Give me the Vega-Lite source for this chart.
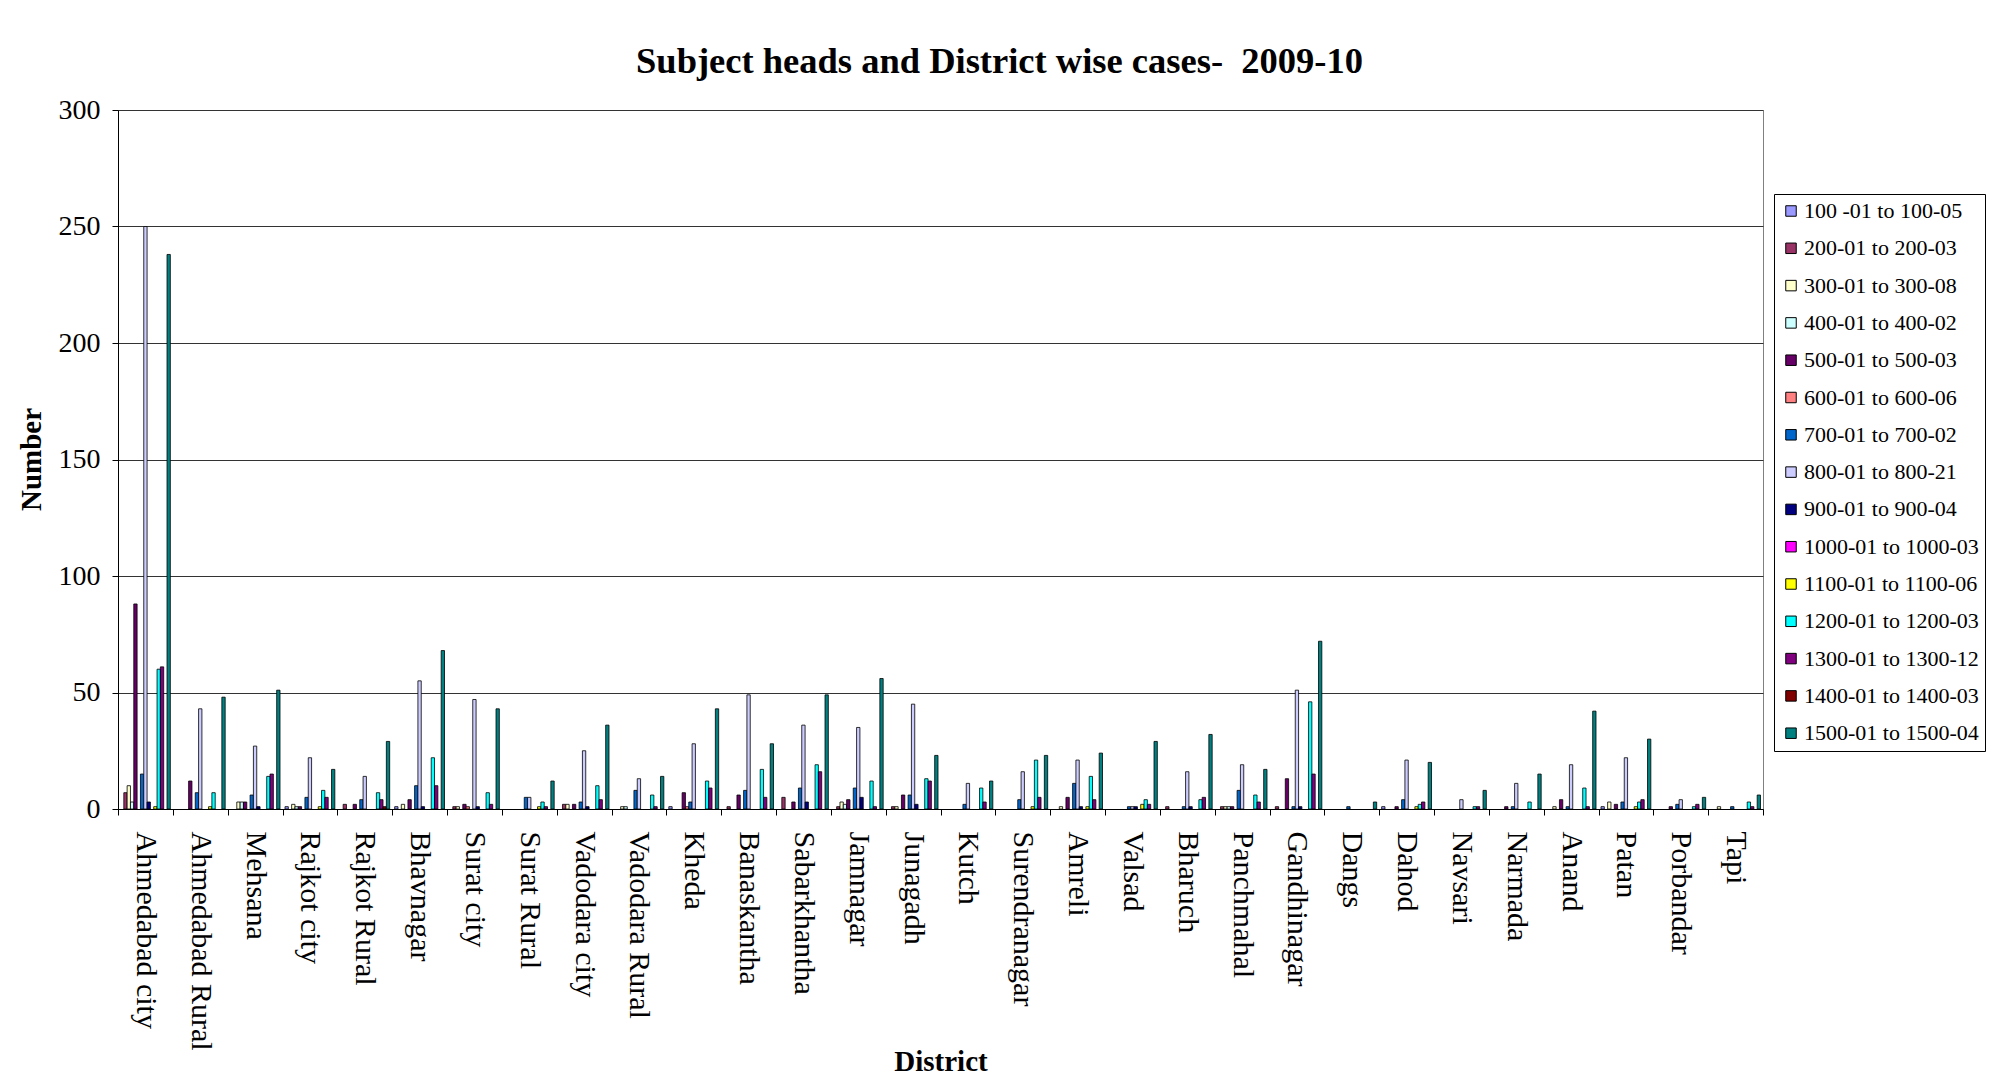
{
  "$schema": "https://vega.github.io/schema/vega-lite/v6.json",
  "autosize": {"type": "none"},
  "padding": {"left": 118, "top": 110, "right": 234, "bottom": 277},
  "width": 1645,
  "height": 699,
  "background": "white",
  "title": {
    "text": "Subject heads and District wise cases- \u00a02009-10",
    "font": "Liberation Serif",
    "fontSize": 36.5,
    "fontWeight": "bold",
    "color": "black",
    "anchor": "middle",
    "dx": 59,
    "offset": -13,
    "baseline": "alphabetic"
  },
  "config": {
    "view": {"stroke": "#808080", "strokeWidth": 1},
    "axis": {"labelColor": "black", "titleColor": "black", "domainColor": "black", "tickColor": "black"}
  },
  "data": {
    "values": [
      {"d": "Ahmedabad city", "s": "200-01 to 200-03", "v": 7},
      {"d": "Ahmedabad city", "s": " 300-01 to 300-08", "v": 10},
      {"d": "Ahmedabad city", "s": "400-01 to 400-02", "v": 3},
      {"d": "Ahmedabad city", "s": "500-01 to 500-03", "v": 88},
      {"d": "Ahmedabad city", "s": "700-01 to 700-02", "v": 15},
      {"d": "Ahmedabad city", "s": "800-01 to 800-21", "v": 250},
      {"d": "Ahmedabad city", "s": "900-01 to 900-04", "v": 3},
      {"d": "Ahmedabad city", "s": "1100-01 to 1100-06", "v": 1},
      {"d": "Ahmedabad city", "s": "1200-01 to 1200-03", "v": 60},
      {"d": "Ahmedabad city", "s": "1300-01 to 1300-12", "v": 61},
      {"d": "Ahmedabad city", "s": "1500-01 to 1500-04", "v": 238},
      {"d": "Ahmedabad Rural", "s": "500-01 to 500-03", "v": 12},
      {"d": "Ahmedabad Rural", "s": "700-01 to 700-02", "v": 7},
      {"d": "Ahmedabad Rural", "s": "800-01 to 800-21", "v": 43},
      {"d": "Ahmedabad Rural", "s": "1100-01 to 1100-06", "v": 1},
      {"d": "Ahmedabad Rural", "s": "1200-01 to 1200-03", "v": 7},
      {"d": "Ahmedabad Rural", "s": "1500-01 to 1500-04", "v": 48},
      {"d": "Mehsana", "s": " 300-01 to 300-08", "v": 3},
      {"d": "Mehsana", "s": "400-01 to 400-02", "v": 3},
      {"d": "Mehsana", "s": "500-01 to 500-03", "v": 3},
      {"d": "Mehsana", "s": "700-01 to 700-02", "v": 6},
      {"d": "Mehsana", "s": "800-01 to 800-21", "v": 27},
      {"d": "Mehsana", "s": "900-01 to 900-04", "v": 1},
      {"d": "Mehsana", "s": "1200-01 to 1200-03", "v": 14},
      {"d": "Mehsana", "s": "1300-01 to 1300-12", "v": 15},
      {"d": "Mehsana", "s": "1500-01 to 1500-04", "v": 51},
      {"d": "Rajkot city", "s": "100 -01 to 100-05", "v": 1},
      {"d": "Rajkot city", "s": " 300-01 to 300-08", "v": 2},
      {"d": "Rajkot city", "s": "400-01 to 400-02", "v": 1},
      {"d": "Rajkot city", "s": "500-01 to 500-03", "v": 1},
      {"d": "Rajkot city", "s": "700-01 to 700-02", "v": 5},
      {"d": "Rajkot city", "s": "800-01 to 800-21", "v": 22},
      {"d": "Rajkot city", "s": "1100-01 to 1100-06", "v": 1},
      {"d": "Rajkot city", "s": "1200-01 to 1200-03", "v": 8},
      {"d": "Rajkot city", "s": "1300-01 to 1300-12", "v": 5},
      {"d": "Rajkot city", "s": "1500-01 to 1500-04", "v": 17},
      {"d": "Rajkot Rural", "s": "200-01 to 200-03", "v": 2},
      {"d": "Rajkot Rural", "s": "500-01 to 500-03", "v": 2},
      {"d": "Rajkot Rural", "s": "700-01 to 700-02", "v": 4},
      {"d": "Rajkot Rural", "s": "800-01 to 800-21", "v": 14},
      {"d": "Rajkot Rural", "s": "1200-01 to 1200-03", "v": 7},
      {"d": "Rajkot Rural", "s": "1300-01 to 1300-12", "v": 4},
      {"d": "Rajkot Rural", "s": "1400-01 to 1400-03", "v": 1},
      {"d": "Rajkot Rural", "s": "1500-01 to 1500-04", "v": 29},
      {"d": "Bhavnagar", "s": "100 -01 to 100-05", "v": 1},
      {"d": "Bhavnagar", "s": " 300-01 to 300-08", "v": 2},
      {"d": "Bhavnagar", "s": "500-01 to 500-03", "v": 4},
      {"d": "Bhavnagar", "s": "700-01 to 700-02", "v": 10},
      {"d": "Bhavnagar", "s": "800-01 to 800-21", "v": 55},
      {"d": "Bhavnagar", "s": "900-01 to 900-04", "v": 1},
      {"d": "Bhavnagar", "s": "1200-01 to 1200-03", "v": 22},
      {"d": "Bhavnagar", "s": "1300-01 to 1300-12", "v": 10},
      {"d": "Bhavnagar", "s": "1500-01 to 1500-04", "v": 68},
      {"d": "Surat city", "s": "200-01 to 200-03", "v": 1},
      {"d": "Surat city", "s": " 300-01 to 300-08", "v": 1},
      {"d": "Surat city", "s": "500-01 to 500-03", "v": 2},
      {"d": "Surat city", "s": "600-01 to 600-06", "v": 1},
      {"d": "Surat city", "s": "800-01 to 800-21", "v": 47},
      {"d": "Surat city", "s": "900-01 to 900-04", "v": 1},
      {"d": "Surat city", "s": "1200-01 to 1200-03", "v": 7},
      {"d": "Surat city", "s": "1300-01 to 1300-12", "v": 2},
      {"d": "Surat city", "s": "1500-01 to 1500-04", "v": 43},
      {"d": "Surat Rural", "s": "700-01 to 700-02", "v": 5},
      {"d": "Surat Rural", "s": "800-01 to 800-21", "v": 5},
      {"d": "Surat Rural", "s": "1100-01 to 1100-06", "v": 1},
      {"d": "Surat Rural", "s": "1200-01 to 1200-03", "v": 3},
      {"d": "Surat Rural", "s": "1300-01 to 1300-12", "v": 1},
      {"d": "Surat Rural", "s": "1500-01 to 1500-04", "v": 12},
      {"d": "Vadodara city", "s": "200-01 to 200-03", "v": 2},
      {"d": "Vadodara city", "s": " 300-01 to 300-08", "v": 2},
      {"d": "Vadodara city", "s": "500-01 to 500-03", "v": 2},
      {"d": "Vadodara city", "s": "700-01 to 700-02", "v": 3},
      {"d": "Vadodara city", "s": "800-01 to 800-21", "v": 25},
      {"d": "Vadodara city", "s": "900-01 to 900-04", "v": 1},
      {"d": "Vadodara city", "s": "1200-01 to 1200-03", "v": 10},
      {"d": "Vadodara city", "s": "1300-01 to 1300-12", "v": 4},
      {"d": "Vadodara city", "s": "1500-01 to 1500-04", "v": 36},
      {"d": "Vadodara Rural", "s": " 300-01 to 300-08", "v": 1},
      {"d": "Vadodara Rural", "s": "400-01 to 400-02", "v": 1},
      {"d": "Vadodara Rural", "s": "700-01 to 700-02", "v": 8},
      {"d": "Vadodara Rural", "s": "800-01 to 800-21", "v": 13},
      {"d": "Vadodara Rural", "s": "1200-01 to 1200-03", "v": 6},
      {"d": "Vadodara Rural", "s": "1300-01 to 1300-12", "v": 1},
      {"d": "Vadodara Rural", "s": "1500-01 to 1500-04", "v": 14},
      {"d": "Kheda", "s": "100 -01 to 100-05", "v": 1},
      {"d": "Kheda", "s": "500-01 to 500-03", "v": 7},
      {"d": "Kheda", "s": "600-01 to 600-06", "v": 1},
      {"d": "Kheda", "s": "700-01 to 700-02", "v": 3},
      {"d": "Kheda", "s": "800-01 to 800-21", "v": 28},
      {"d": "Kheda", "s": "1200-01 to 1200-03", "v": 12},
      {"d": "Kheda", "s": "1300-01 to 1300-12", "v": 9},
      {"d": "Kheda", "s": "1500-01 to 1500-04", "v": 43},
      {"d": "Banaskantha", "s": "200-01 to 200-03", "v": 1},
      {"d": "Banaskantha", "s": "500-01 to 500-03", "v": 6},
      {"d": "Banaskantha", "s": "700-01 to 700-02", "v": 8},
      {"d": "Banaskantha", "s": "800-01 to 800-21", "v": 49},
      {"d": "Banaskantha", "s": "1200-01 to 1200-03", "v": 17},
      {"d": "Banaskantha", "s": "1300-01 to 1300-12", "v": 5},
      {"d": "Banaskantha", "s": "1500-01 to 1500-04", "v": 28},
      {"d": "Sabarkhantha", "s": "200-01 to 200-03", "v": 5},
      {"d": "Sabarkhantha", "s": "500-01 to 500-03", "v": 3},
      {"d": "Sabarkhantha", "s": "700-01 to 700-02", "v": 9},
      {"d": "Sabarkhantha", "s": "800-01 to 800-21", "v": 36},
      {"d": "Sabarkhantha", "s": "900-01 to 900-04", "v": 3},
      {"d": "Sabarkhantha", "s": "1200-01 to 1200-03", "v": 19},
      {"d": "Sabarkhantha", "s": "1300-01 to 1300-12", "v": 16},
      {"d": "Sabarkhantha", "s": "1500-01 to 1500-04", "v": 49},
      {"d": "Jamnagar", "s": "200-01 to 200-03", "v": 1},
      {"d": "Jamnagar", "s": " 300-01 to 300-08", "v": 3},
      {"d": "Jamnagar", "s": "400-01 to 400-02", "v": 2},
      {"d": "Jamnagar", "s": "500-01 to 500-03", "v": 4},
      {"d": "Jamnagar", "s": "700-01 to 700-02", "v": 9},
      {"d": "Jamnagar", "s": "800-01 to 800-21", "v": 35},
      {"d": "Jamnagar", "s": "900-01 to 900-04", "v": 5},
      {"d": "Jamnagar", "s": "1200-01 to 1200-03", "v": 12},
      {"d": "Jamnagar", "s": "1300-01 to 1300-12", "v": 1},
      {"d": "Jamnagar", "s": "1500-01 to 1500-04", "v": 56},
      {"d": "Junagadh", "s": "200-01 to 200-03", "v": 1},
      {"d": "Junagadh", "s": " 300-01 to 300-08", "v": 1},
      {"d": "Junagadh", "s": "500-01 to 500-03", "v": 6},
      {"d": "Junagadh", "s": "700-01 to 700-02", "v": 6},
      {"d": "Junagadh", "s": "800-01 to 800-21", "v": 45},
      {"d": "Junagadh", "s": "900-01 to 900-04", "v": 2},
      {"d": "Junagadh", "s": "1200-01 to 1200-03", "v": 13},
      {"d": "Junagadh", "s": "1300-01 to 1300-12", "v": 12},
      {"d": "Junagadh", "s": "1500-01 to 1500-04", "v": 23},
      {"d": "Kutch", "s": "700-01 to 700-02", "v": 2},
      {"d": "Kutch", "s": "800-01 to 800-21", "v": 11},
      {"d": "Kutch", "s": "1200-01 to 1200-03", "v": 9},
      {"d": "Kutch", "s": "1300-01 to 1300-12", "v": 3},
      {"d": "Kutch", "s": "1500-01 to 1500-04", "v": 12},
      {"d": "Surendranagar", "s": "700-01 to 700-02", "v": 4},
      {"d": "Surendranagar", "s": "800-01 to 800-21", "v": 16},
      {"d": "Surendranagar", "s": "1100-01 to 1100-06", "v": 1},
      {"d": "Surendranagar", "s": "1200-01 to 1200-03", "v": 21},
      {"d": "Surendranagar", "s": "1300-01 to 1300-12", "v": 5},
      {"d": "Surendranagar", "s": "1500-01 to 1500-04", "v": 23},
      {"d": "Amreli", "s": " 300-01 to 300-08", "v": 1},
      {"d": "Amreli", "s": "500-01 to 500-03", "v": 5},
      {"d": "Amreli", "s": "700-01 to 700-02", "v": 11},
      {"d": "Amreli", "s": "800-01 to 800-21", "v": 21},
      {"d": "Amreli", "s": "900-01 to 900-04", "v": 1},
      {"d": "Amreli", "s": "1100-01 to 1100-06", "v": 1},
      {"d": "Amreli", "s": "1200-01 to 1200-03", "v": 14},
      {"d": "Amreli", "s": "1300-01 to 1300-12", "v": 4},
      {"d": "Amreli", "s": "1500-01 to 1500-04", "v": 24},
      {"d": "Valsad", "s": "700-01 to 700-02", "v": 1},
      {"d": "Valsad", "s": "800-01 to 800-21", "v": 1},
      {"d": "Valsad", "s": "900-01 to 900-04", "v": 1},
      {"d": "Valsad", "s": "1100-01 to 1100-06", "v": 2},
      {"d": "Valsad", "s": "1200-01 to 1200-03", "v": 4},
      {"d": "Valsad", "s": "1300-01 to 1300-12", "v": 2},
      {"d": "Valsad", "s": "1500-01 to 1500-04", "v": 29},
      {"d": "Bharuch", "s": "200-01 to 200-03", "v": 1},
      {"d": "Bharuch", "s": "700-01 to 700-02", "v": 1},
      {"d": "Bharuch", "s": "800-01 to 800-21", "v": 16},
      {"d": "Bharuch", "s": "900-01 to 900-04", "v": 1},
      {"d": "Bharuch", "s": "1200-01 to 1200-03", "v": 4},
      {"d": "Bharuch", "s": "1300-01 to 1300-12", "v": 5},
      {"d": "Bharuch", "s": "1500-01 to 1500-04", "v": 32},
      {"d": "Panchmahal", "s": "200-01 to 200-03", "v": 1},
      {"d": "Panchmahal", "s": " 300-01 to 300-08", "v": 1},
      {"d": "Panchmahal", "s": "400-01 to 400-02", "v": 1},
      {"d": "Panchmahal", "s": "500-01 to 500-03", "v": 1},
      {"d": "Panchmahal", "s": "700-01 to 700-02", "v": 8},
      {"d": "Panchmahal", "s": "800-01 to 800-21", "v": 19},
      {"d": "Panchmahal", "s": "1200-01 to 1200-03", "v": 6},
      {"d": "Panchmahal", "s": "1300-01 to 1300-12", "v": 3},
      {"d": "Panchmahal", "s": "1500-01 to 1500-04", "v": 17},
      {"d": "Gandhinagar", "s": "200-01 to 200-03", "v": 1},
      {"d": "Gandhinagar", "s": "500-01 to 500-03", "v": 13},
      {"d": "Gandhinagar", "s": "700-01 to 700-02", "v": 1},
      {"d": "Gandhinagar", "s": "800-01 to 800-21", "v": 51},
      {"d": "Gandhinagar", "s": "900-01 to 900-04", "v": 1},
      {"d": "Gandhinagar", "s": "1200-01 to 1200-03", "v": 46},
      {"d": "Gandhinagar", "s": "1300-01 to 1300-12", "v": 15},
      {"d": "Gandhinagar", "s": "1500-01 to 1500-04", "v": 72},
      {"d": "Dangs", "s": "700-01 to 700-02", "v": 1},
      {"d": "Dangs", "s": "1500-01 to 1500-04", "v": 3},
      {"d": "Dahod", "s": "100 -01 to 100-05", "v": 1},
      {"d": "Dahod", "s": "500-01 to 500-03", "v": 1},
      {"d": "Dahod", "s": "700-01 to 700-02", "v": 4},
      {"d": "Dahod", "s": "800-01 to 800-21", "v": 21},
      {"d": "Dahod", "s": "1100-01 to 1100-06", "v": 1},
      {"d": "Dahod", "s": "1200-01 to 1200-03", "v": 2},
      {"d": "Dahod", "s": "1300-01 to 1300-12", "v": 3},
      {"d": "Dahod", "s": "1500-01 to 1500-04", "v": 20},
      {"d": "Navsari", "s": "800-01 to 800-21", "v": 4},
      {"d": "Navsari", "s": "1200-01 to 1200-03", "v": 1},
      {"d": "Navsari", "s": "1300-01 to 1300-12", "v": 1},
      {"d": "Navsari", "s": "1500-01 to 1500-04", "v": 8},
      {"d": "Narmada", "s": "500-01 to 500-03", "v": 1},
      {"d": "Narmada", "s": "700-01 to 700-02", "v": 1},
      {"d": "Narmada", "s": "800-01 to 800-21", "v": 11},
      {"d": "Narmada", "s": "1200-01 to 1200-03", "v": 3},
      {"d": "Narmada", "s": "1500-01 to 1500-04", "v": 15},
      {"d": "Anand", "s": " 300-01 to 300-08", "v": 1},
      {"d": "Anand", "s": "500-01 to 500-03", "v": 4},
      {"d": "Anand", "s": "700-01 to 700-02", "v": 1},
      {"d": "Anand", "s": "800-01 to 800-21", "v": 19},
      {"d": "Anand", "s": "1200-01 to 1200-03", "v": 9},
      {"d": "Anand", "s": "1300-01 to 1300-12", "v": 1},
      {"d": "Anand", "s": "1500-01 to 1500-04", "v": 42},
      {"d": "Patan", "s": "100 -01 to 100-05", "v": 1},
      {"d": "Patan", "s": " 300-01 to 300-08", "v": 3},
      {"d": "Patan", "s": "500-01 to 500-03", "v": 2},
      {"d": "Patan", "s": "700-01 to 700-02", "v": 3},
      {"d": "Patan", "s": "800-01 to 800-21", "v": 22},
      {"d": "Patan", "s": "1100-01 to 1100-06", "v": 1},
      {"d": "Patan", "s": "1200-01 to 1200-03", "v": 3},
      {"d": "Patan", "s": "1300-01 to 1300-12", "v": 4},
      {"d": "Patan", "s": "1500-01 to 1500-04", "v": 30},
      {"d": "Porbandar", "s": "500-01 to 500-03", "v": 1},
      {"d": "Porbandar", "s": "700-01 to 700-02", "v": 2},
      {"d": "Porbandar", "s": "800-01 to 800-21", "v": 4},
      {"d": "Porbandar", "s": "1200-01 to 1200-03", "v": 1},
      {"d": "Porbandar", "s": "1300-01 to 1300-12", "v": 2},
      {"d": "Porbandar", "s": "1500-01 to 1500-04", "v": 5},
      {"d": "Tapi", "s": " 300-01 to 300-08", "v": 1},
      {"d": "Tapi", "s": "700-01 to 700-02", "v": 1},
      {"d": "Tapi", "s": "1200-01 to 1200-03", "v": 3},
      {"d": "Tapi", "s": "1300-01 to 1300-12", "v": 1},
      {"d": "Tapi", "s": "1500-01 to 1500-04", "v": 6}
    ]
  },
  "mark": {"type": "bar", "stroke": "black", "strokeWidth": 0.8},
  "encoding": {
    "x": {
      "field": "d",
      "type": "nominal",
      "title": "District",
      "scale": {
        "domain": ["Ahmedabad city", "Ahmedabad Rural", "Mehsana", "Rajkot city", "Rajkot Rural", "Bhavnagar", "Surat city", "Surat Rural", "Vadodara city", "Vadodara Rural", "Kheda", "Banaskantha", "Sabarkhantha", "Jamnagar", "Junagadh", "Kutch", "Surendranagar", "Amreli", "Valsad", "Bharuch", "Panchmahal", "Gandhinagar", "Dangs", "Dahod", "Navsari", "Narmada", "Anand", "Patan", "Porbandar", "Tapi"],
        "paddingInner": 0,
        "paddingOuter": 0
      },
      "axis": {
        "labelAngle": 90,
        "labelAlign": "left",
        "labelBaseline": "middle",
        "labelFont": "Liberation Serif",
        "labelFontSize": 30,
        "labelPadding": 16,
        "labelLimit": 0,
        "tickBand": "extent",
        "tickSize": 6,
        "grid": false,
        "labelOverlap": false,
        "titleFont": "Liberation Serif",
        "titleFontSize": 29,
        "titleFontWeight": "bold",
        "titleY": 252,
        "titleBaseline": "middle"
      }
    },
    "xOffset": {
      "field": "s",
      "type": "nominal",
      "scale": {
        "domain": ["100 -01 to 100-05", "200-01 to 200-03", " 300-01 to 300-08", "400-01 to 400-02", "500-01 to 500-03", "600-01 to 600-06", "700-01 to 700-02", "800-01 to 800-21", "900-01 to 900-04", "1000-01 to 1000-03", "1100-01 to 1100-06", "1200-01 to 1200-03", "1300-01 to 1300-12", "1400-01 to 1400-03", "1500-01 to 1500-04"],
        "paddingInner": 0,
        "paddingOuter": 0.75
      }
    },
    "y": {
      "field": "v",
      "type": "quantitative",
      "title": "Number",
      "scale": {"domain": [0, 300], "nice": false},
      "axis": {
        "values": [0, 50, 100, 150, 200, 250, 300],
        "labelFont": "Liberation Serif",
        "labelFontSize": 28,
        "labelPadding": 12,
        "tickSize": 6,
        "grid": true,
        "gridColor": "#333333",
        "gridWidth": 1,
        "titleFont": "Liberation Serif",
        "titleFontSize": 29,
        "titleFontWeight": "bold",
        "titleX": -87,
        "titleY": 349,
        "titleAlign": "center",
        "titleBaseline": "middle"
      }
    },
    "color": {
      "field": "s",
      "type": "nominal",
      "scale": {
        "domain": ["100 -01 to 100-05", "200-01 to 200-03", " 300-01 to 300-08", "400-01 to 400-02", "500-01 to 500-03", "600-01 to 600-06", "700-01 to 700-02", "800-01 to 800-21", "900-01 to 900-04", "1000-01 to 1000-03", "1100-01 to 1100-06", "1200-01 to 1200-03", "1300-01 to 1300-12", "1400-01 to 1400-03", "1500-01 to 1500-04"],
        "range": ["#9999FF", "#993366", "#FFFFCC", "#CCFFFF", "#660066", "#FF8080", "#0066CC", "#CCCCFF", "#000080", "#FF00FF", "#FFFF00", "#00FFFF", "#800080", "#800000", "#008080"]
      },
      "legend": {
        "title": null,
        "orient": "none",
        "legendX": 1656,
        "legendY": 84,
        "fillColor": "white",
        "strokeColor": "black",
        "padding": 6,
        "rowPadding": 15.3,
        "symbolType": "square",
        "symbolSize": 110,
        "symbolStrokeColor": "black",
        "symbolStrokeWidth": 1,
        "symbolOpacity": 1,
        "labelFont": "Liberation Serif",
        "labelFontSize": 22,
        "labelColor": "black",
        "labelOffset": 2,
        "labelLimit": 300
      }
    }
  }
}
